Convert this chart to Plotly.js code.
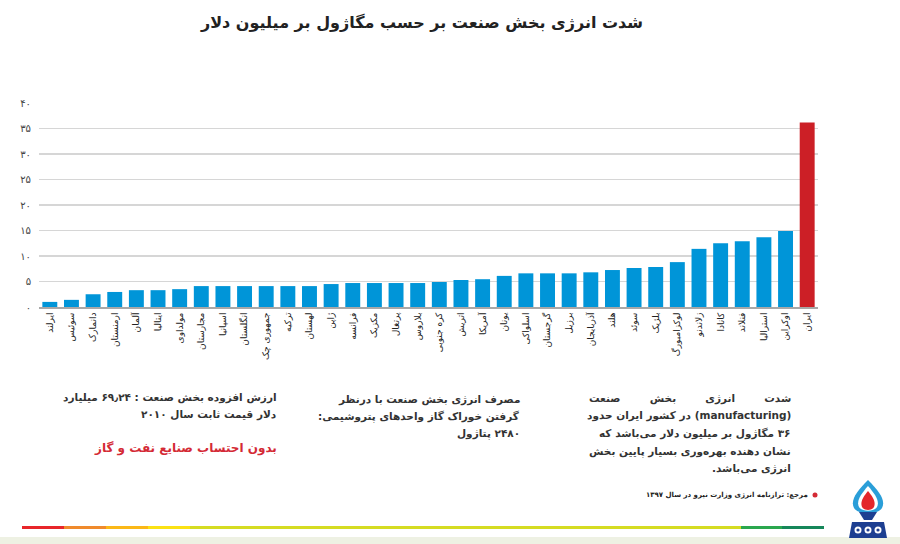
<!DOCTYPE html>
<html>
<head>
<meta charset="utf-8">
<script src="https://cdn.plot.ly/plotly-3.0.1.min.js"></script>
<style>
  html, body { margin: 0; padding: 0; background: #ffffff; }
  #chart { width: 900px; height: 544px; }
</style>
</head>
<body>
<div id="chart"></div>
<script>
// ---- data ----
const countries = [
  "ایرلند", "سوئیس", "دانمارک", "ارمنستان", "آلمان", "ایتالیا", "مولداوی", "مجارستان",
  "اسپانیا", "انگلستان", "جمهوری چک", "ترکیه", "لهستان", "ژاپن", "فرانسه", "مکزیک",
  "پرتغال", "بلاروس", "کره جنوبی", "اتریش", "آمریکا", "یونان", "اسلواکی", "گرجستان",
  "برزیل", "آذربایجان", "هلند", "سوئد", "بلژیک", "لوکزامبورگ", "زلاندنو", "کانادا",
  "فنلاند", "استرالیا", "اوکراین", "ایران"
];
const intensity = [
  1.0, 1.4, 2.5, 2.95, 3.3, 3.3, 3.5, 4.1,
  4.1, 4.1, 4.1, 4.1, 4.1, 4.5, 4.7, 4.7,
  4.7, 4.7, 4.9, 5.3, 5.45, 6.1, 6.6, 6.6,
  6.6, 6.8, 7.25, 7.65, 7.85, 8.8, 11.4, 12.5,
  12.9, 13.7, 14.9, 36.2
];
const highlightCountry = "ایران";
const yTickVals = [0, 5, 10, 15, 20, 25, 30, 35, 40];
const yTickText = ["۰", "۵", "۱۰", "۱۵", "۲۰", "۲۵", "۳۰", "۳۵", "۴۰"];

const titleText = "شدت انرژی بخش صنعت بر حسب مگاژول بر میلیون دلار";
const noteLeft = ["ارزش افزوده بخش صنعت : ۶۹٫۲۴ میلیارد", "دلار قیمت ثابت سال ۲۰۱۰"];
const noteRed = "بدون احتساب صنایع نفت و گاز";
const noteMid = ["مصرف انرژی بخش صنعت با درنظر", "گرفتن خوراک گاز واحدهای پتروشیمی:", "۲۴۸۰ پتاژول"];
const noteRight = [
  "شدت انرژی بخش صنعت",
  "(manufacturing) در کشور ایران حدود",
  "۳۶ مگاژول بر میلیون دلار می‌باشد که",
  "نشان دهنده بهره‌وری بسیار پایین بخش",
  "انرژی می‌باشد."
];
const sourceText = "مرجع: ترازنامه انرژی وزارت نیرو در سال ۱۳۹۷";

// ---- layout geometry ----
const W = 900, Hh = 544;
const mL = 39, mR = 82, mT = 103, mB = 237;
const pw = W - mL - mR, ph = Hh - mT - mB;
const X = px => (px - mL) / pw;
const Y = py => (Hh - mB - py) / ph;
const rtl = s => "\u202B" + s + "\u202C";
const spread = (s, n) => s.split(" ").join("\u00A0".repeat(n));

const FONT = "DejaVu Sans, sans-serif";
const blue = "#0095d8", red = "#cc1f26";

const barColors = countries.map(c => c === highlightCountry ? red : blue);

const trace = {
  type: "bar",
  x: countries,
  y: intensity,
  marker: { color: barColors, line: { width: 0 } },
  hoverinfo: "x+y"
};

// annotations
const ann = [];
function addLine(text, xr, yc, size, color, bold) {
  ann.push({
    xref: "paper", yref: "paper", x: X(xr), y: Y(yc),
    xanchor: "right", yanchor: "middle", showarrow: false,
    text: bold ? "<b>" + rtl(text) + "</b>" : rtl(text),
    font: { family: FONT, size: size, color: color }
  });
}
const NS = 10.5;
addLine(noteLeft[0], 279, 397, NS, "#333333", true);
addLine(noteLeft[1], 279, 414, NS, "#333333", true);
addLine(noteRed, 279, 448, 12, "#d42a35", true);
[399, 416, 433].forEach((yy, i) => addLine(noteMid[i], 522, yy, NS, "#333333", true));
addLine(spread(noteRight[0], 8), 793, 398, NS, "#333333", true);
[415, 433, 451, 469].forEach((yy, i) => addLine(noteRight[i + 1], 793, yy, NS, "#333333", true));
addLine(sourceText, 810, 495, 7, "#222222", true);

// shapes
const shapes = [];
function rect(x0, y0, x1, y1, color) {
  shapes.push({ type: "rect", xref: "paper", yref: "paper",
    x0: X(x0), x1: X(x1), y0: Y(y1), y1: Y(y0),
    fillcolor: color, line: { width: 0 }, layer: "above" });
}
function pathShape(pts, color) {
  const d = pts.map(p => {
    if (p[0] === "Z") return "Z";
    const cmd = p[0];
    const coords = [];
    for (let i = 1; i < p.length; i += 2) coords.push(X(p[i]).toFixed(5) + "," + Y(p[i + 1]).toFixed(5));
    return cmd + coords.join(" ");
  }).join(" ");
  shapes.push({ type: "path", xref: "paper", yref: "paper", path: d,
    fillcolor: color, line: { width: 0 }, layer: "above" });
}
function circle(cx, cy, r, color) {
  shapes.push({ type: "circle", xref: "paper", yref: "paper",
    x0: X(cx - r), x1: X(cx + r), y0: Y(cy + r), y1: Y(cy - r),
    fillcolor: color, line: { width: 0 }, layer: "above" });
}

// source bullet
circle(815, 495, 2.5, "#d42a35");

// bottom colour band
const bandSegs = [
  [22, 64, "#e8262a"], [64, 106, "#f08a2c"], [106, 148, "#fbb817"], [148, 190, "#fbe214"],
  [190, 741, "#d5dc22"], [741, 782, "#2aa74e"], [782, 824, "#16875a"]
];
bandSegs.forEach(s => rect(s[0], 526, s[1], 529, s[2]));
rect(0, 537, 900, 544, "#eef1e3");

// logo (approximation)
pathShape([["M", 868, 480], ["C", 857, 491, 850, 500, 854, 508], ["C", 858, 515, 878, 515, 882, 508], ["C", 886, 500, 879, 491, 868, 480], ["Z"]], "#2a9ed8");
pathShape([["M", 868, 486], ["C", 861, 494, 856, 501, 859, 507], ["C", 862, 512, 874, 512, 877, 507], ["C", 880, 501, 875, 494, 868, 486], ["Z"]], "#ffffff");
pathShape([["M", 868, 491], ["C", 863, 497, 860, 502, 862, 507], ["C", 864, 511, 872, 511, 874, 507], ["C", 876, 502, 873, 497, 868, 491], ["Z"]], "#e3262b");
pathShape([["M", 859, 512], ["L", 877, 512], ["L", 872, 520], ["L", 864, 520], ["Z"]], "#1d3f91");
pathShape([["M", 852, 522], ["L", 884, 522], ["L", 887, 538], ["L", 849, 538], ["Z"]], "#1d3f91");
circle(858, 530, 3.5, "#ffffff");
circle(868, 530, 3.5, "#ffffff");
circle(878, 530, 3.5, "#ffffff");
circle(858, 530, 1.6, "#1d3f91");
circle(868, 530, 1.6, "#1d3f91");
circle(878, 530, 1.6, "#1d3f91");

const layout = {
  width: W, height: Hh,
  margin: { l: mL, r: mR, t: mT, b: mB, pad: 0 },
  paper_bgcolor: "#ffffff", plot_bgcolor: "#ffffff",
  showlegend: false,
  bargap: 0.31,
  title: {
    text: "<b>" + titleText + "</b>",
    xref: "container", yref: "container",
    x: 422 / W, y: 1 - 22 / Hh, xanchor: "center", yanchor: "middle",
    font: { family: FONT, size: 16, color: "#222222" }
  },
  xaxis: {
    type: "category",
    tickangle: -90,
    ticks: "",
    showgrid: false,
    showline: true, linecolor: "#a8a8a8", linewidth: 2,
    tickfont: { family: FONT, size: 9, color: "#222222" },
    automargin: false,
    fixedrange: true
  },
  yaxis: {
    range: [0, 40],
    tickmode: "array",
    tickvals: yTickVals,
    ticktext: yTickText,
    showgrid: true, gridcolor: "#d6d6d6", gridwidth: 1.5,
    zeroline: false,
    showline: false,
    ticks: "",
    ticklabelstandoff: 7,
    tickfont: { family: FONT, size: 10, color: "#444444" },
    automargin: false,
    fixedrange: true
  },
  annotations: ann,
  shapes: shapes,
  font: { family: FONT }
};

Plotly.newPlot("chart", [trace], layout, { displayModeBar: false, staticPlot: true });
</script>
</body>
</html>
